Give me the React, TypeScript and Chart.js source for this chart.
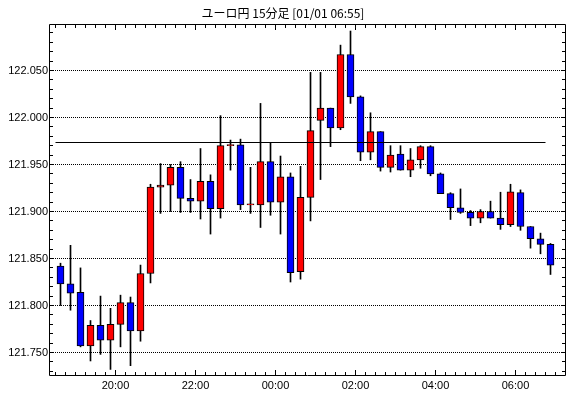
import React, { useEffect, useRef } from 'react';
import { Chart, registerables } from 'chart.js';

Chart.register(...registerables);

const chartTitle = 'ユーロ円 15分足 [01/01 06:55]';

const times = [
  '18:30', '18:45', '19:00', '19:15', '19:30', '19:45', '20:00', '20:15', '20:30', '20:45',
  '21:00', '21:15', '21:30', '21:45', '22:00', '22:15', '22:30', '22:45', '23:00', '23:15',
  '23:30', '23:45', '00:00', '00:15', '00:30', '00:45', '01:00', '01:15', '01:30', '01:45',
  '02:00', '02:15', '02:30', '02:45', '03:00', '03:15', '03:30', '03:45', '04:00', '04:15',
  '04:30', '04:45', '05:00', '05:15', '05:30', '05:45', '06:00', '06:15', '06:30', '06:45',
];

const opens = [
  121.842, 121.823, 121.814, 121.757, 121.779, 121.763, 121.780, 121.803, 121.773, 121.834,
  121.926, 121.928, 121.947, 121.914, 121.911, 121.932, 121.903, 121.970, 121.971, 121.907,
  121.907, 121.953, 121.910, 121.937, 121.836, 121.915, 121.997, 122.010, 121.989, 122.067,
  122.022, 121.963, 121.985, 121.947, 121.961, 121.944, 121.955, 121.969, 121.940, 121.919,
  121.904, 121.899, 121.893, 121.900, 121.893, 121.886, 121.920, 121.884, 121.871, 121.865,
];
const highs = [
  121.845, 121.864, 121.840, 121.784, 121.810, 121.797, 121.811, 121.809, 121.843, 121.929,
  121.951, 121.950, 121.953, 121.934, 121.967, 121.939, 122.002, 121.976, 121.977, 121.947,
  122.015, 121.973, 121.959, 121.941, 121.948, 122.048, 122.048, 122.010, 122.077, 122.092,
  122.023, 122.005, 121.985, 121.970, 121.970, 121.967, 121.970, 121.970, 121.941, 121.920,
  121.924, 121.901, 121.902, 121.911, 121.9205, 121.929, 121.923, 121.884, 121.877, 121.866,
];
const lows = [
  121.800, 121.795, 121.756, 121.741, 121.748, 121.732, 121.756, 121.736, 121.762, 121.824,
  121.898, 121.900, 121.899, 121.899, 121.892, 121.876, 121.893, 121.944, 121.902, 121.898,
  121.883, 121.896, 121.876, 121.825, 121.828, 121.890, 121.934, 121.969, 121.987, 122.015,
  121.954, 121.955, 121.943, 121.942, 121.944, 121.937, 121.946, 121.938, 121.919, 121.8915,
  121.898, 121.885, 121.888, 121.893, 121.881, 121.884, 121.880, 121.861, 121.855, 121.833,
];
const closes = [
  121.823, 121.813, 121.757, 121.779, 121.763, 121.780, 121.803, 121.773, 121.834, 121.926,
  121.928, 121.947, 121.914, 121.911, 121.932, 121.903, 121.970, 121.970, 121.907, 121.907,
  121.953, 121.910, 121.937, 121.835, 121.915, 121.986, 122.010, 121.989, 122.067, 122.022,
  121.963, 121.985, 121.947, 121.960, 121.944, 121.955, 121.969, 121.940, 121.919, 121.904,
  121.899, 121.893, 121.900, 121.893, 121.886, 121.921, 121.884, 121.871, 121.865, 121.843,
];

const referenceLevel = 121.9734;

const xTickLabels = ['20:00', '22:00', '00:00', '02:00', '04:00', '06:00'];
const yTickLabels = ['121.750', '121.800', '121.850', '121.900', '121.950', '122.000', '122.050'];

// minutes since 18:00 (wrapping past midnight)
const toMinutes = (t: string) => {
  const [h, m] = t.split(':').map(Number);
  let v = h * 60 + m - 18 * 60;
  if (v < 0) v += 1440;
  return v;
};

const SLOT = 15;
const X_MIN = 20.25;
const X_MAX = 794.25;
const Y_MAX = 122.09947;
const Y_MIN = 121.72606;
const FONT = '"Liberation Sans", Arial, sans-serif';

const framePlugin = {
  id: 'frameTicks',
  afterDraw(chart: any) {
    const { ctx, chartArea, scales } = chart;
    const { left, right, top, bottom } = chartArea;
    const x = scales.x;
    const y = scales.y;
    ctx.save();
    ctx.strokeStyle = '#000';
    ctx.lineWidth = 1;
    ctx.beginPath();
    ctx.rect(left + 0.5, top + 0.5, right - left, bottom - top);
    ctx.stroke();

    ctx.beginPath();
    const firstSlot = toMinutes(times[0]);
    for (let m = firstSlot; m <= X_MAX; m += SLOT) {
      const px = Math.floor(x.getPixelForValue(m)) + 0.5;
      if (px <= left + 1 || px >= right) continue;
      const len = m % 120 === 0 ? 5 : 3;
      ctx.moveTo(px, bottom);
      ctx.lineTo(px, bottom - len);
      ctx.moveTo(px, top + 1);
      ctx.lineTo(px, top + 1 + len);
    }
    for (let k = Math.ceil(Y_MIN * 100); k <= Math.floor(Y_MAX * 100); k++) {
      const py = Math.floor(y.getPixelForValue(k / 100)) + 0.5;
      ctx.moveTo(left + 1, py);
      ctx.lineTo(left + 4, py);
      ctx.moveTo(right, py);
      ctx.lineTo(right - 3, py);
    }
    ctx.stroke();

    ctx.fillStyle = '#000';
    ctx.font = '12px "Noto Sans CJK JP", sans-serif';
    ctx.textAlign = 'center';
    ctx.textBaseline = 'middle';
    ctx.fillText(chartTitle, 283, 13);
    ctx.restore();
  },
};

export default function App() {
  const canvasRef = useRef<HTMLCanvasElement | null>(null);

  useEffect(() => {
    const canvas = canvasRef.current;
    if (!canvas) return;
    const centers = times.map((t) => toMinutes(t) + SLOT / 2);
    const bodyColors = opens.map((o, i) => (closes[i] >= o ? '#FF0000' : '#0000FF'));
    const xTickValues = xTickLabels.map(toMinutes);
    const yTickValues = yTickLabels.map(Number);

    const chart = new Chart(canvas, {
      type: 'bar',
      data: {
        datasets: [
          {
            type: 'line',
            data: [
              { x: toMinutes(times[0]), y: referenceLevel },
              { x: toMinutes(times[times.length - 1]), y: referenceLevel },
            ],
            borderColor: '#000',
            borderWidth: 1,
            pointRadius: 0,
            order: 0,
          } as any,
          {
            type: 'bar',
            data: centers.map((c, i) => ({ x: c, y: [opens[i], closes[i]] })),
            backgroundColor: bodyColors,
            borderColor: '#000',
            borderWidth: 1,
            borderSkipped: false,
            barThickness: 7,
            minBarLength: 1,
            grouped: false,
            order: 1,
          } as any,
          {
            type: 'bar',
            data: centers.map((c, i) => ({ x: c, y: [lows[i], highs[i]] })),
            backgroundColor: '#000',
            borderWidth: 0,
            barThickness: 1,
            minBarLength: 1,
            grouped: false,
            order: 2,
          } as any,
        ],
      },
      options: {
        responsive: false,
        animation: false,
        events: [],
        layout: { padding: { top: 24, right: 5, left: 0, bottom: 0 } },
        plugins: {
          legend: { display: false },
          title: { display: false },
          tooltip: { enabled: false },
        },
        scales: {
          x: {
            type: 'linear',
            min: X_MIN,
            max: X_MAX,
            offset: false,
            grid: { display: false, drawTicks: false },
            border: { display: false },
            afterBuildTicks: (s: any) => {
              s.ticks = xTickValues.map((v) => ({ value: v }));
            },
            afterFit: (s: any) => {
              s.height = 23;
            },
            ticks: {
              autoSkip: false,
              maxRotation: 0,
              padding: 4,
              color: '#000',
              font: { family: FONT, size: 11 },
              callback: (_v: any, i: number) => xTickLabels[i],
            },
          },
          y: {
            type: 'linear',
            min: Y_MIN,
            max: Y_MAX,
            grid: { color: '#000', lineWidth: 1, drawTicks: false },
            border: { display: false, dash: [1, 1] },
            afterBuildTicks: (s: any) => {
              s.ticks = yTickValues.map((v) => ({ value: v }));
            },
            afterFit: (s: any) => {
              s.width = 49;
            },
            ticks: {
              autoSkip: false,
              padding: 1,
              color: '#000',
              font: { family: FONT, size: 11 },
              callback: (_v: any, i: number) => yTickLabels[i],
            },
          },
        },
      } as any,
      plugins: [framePlugin],
    });
    return () => chart.destroy();
  }, []);

  return (
    <div style={{ position: 'absolute', left: 0, top: 0, width: 570, height: 398, background: '#fff' }}>
      <canvas ref={canvasRef} width={570} height={398} style={{ display: 'block' }} />
    </div>
  );
}
